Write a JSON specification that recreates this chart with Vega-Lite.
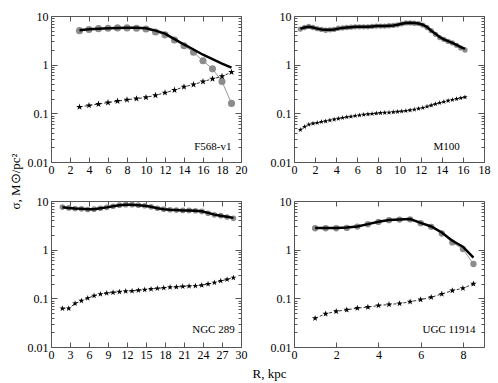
{
  "$schema": "https://vega.github.io/schema/vega-lite/v6.json",
  "padding": {"left": 8, "top": 9, "right": 5, "bottom": 5},
  "background": "white",
  "columns": 2,
  "spacing": {"row": 39, "column": 53},
  "bounds": "flush",
  "concat": [
        {
          "width": 190, "height": 146,
          "data": {"values": [
            {"r":3,"obs":5.0,"model":5.1,"star":0.135},
            {"r":4,"obs":5.3,"model":5.35,"star":0.145},
            {"r":5,"obs":5.5,"model":5.5,"star":0.155},
            {"r":6,"obs":5.6,"model":5.6,"star":0.166},
            {"r":7,"obs":5.7,"model":5.7,"star":0.178},
            {"r":8,"obs":5.7,"model":5.75,"star":0.19},
            {"r":9,"obs":5.6,"model":5.75,"star":0.2},
            {"r":10,"obs":5.4,"model":5.6,"star":0.212},
            {"r":11,"obs":4.7,"model":5.0,"star":0.235},
            {"r":12,"obs":4.1,"model":4.35,"star":0.265},
            {"r":13,"obs":3.2,"model":3.35,"star":0.3},
            {"r":14,"obs":2.45,"model":2.6,"star":0.35},
            {"r":15,"obs":1.8,"model":2.05,"star":0.39},
            {"r":16,"obs":1.2,"model":1.6,"star":0.45},
            {"r":17,"obs":0.82,"model":1.3,"star":0.51},
            {"r":18,"obs":0.45,"model":1.05,"star":0.575},
            {"r":19,"obs":0.16,"model":0.87,"star":0.7}
          ]},
          "layer": [
            {"mark": {"type": "line", "color": "#999999", "strokeWidth": 1},
             "encoding": {
               "x": {"field": "r", "type": "quantitative", "scale": {"domain": [0, 20], "nice": false, "zero": false},
                     "axis": {"orient": "bottom", "values": [0,2,4,6,8,10,12,14,16,18,20], "tickSize": -5, "labelPadding": 7, "title": null}},
               "y": {"field": "obs", "type": "quantitative", "scale": {"type": "log", "domain": [0.01, 10], "nice": false},
                     "axis": {"orient": "left", "values": [0.01, 0.1, 1, 10], "format": "~g", "tickSize": -6, "labelPadding": 9,
                              "title": "σ, M⊙/pc²", "titleX": -36, "titleY": 165, "titleAngle": -90, "titleAlign": "center", "titleBaseline": "middle"}}
             }},
            {"mark": {"type": "point", "filled": true, "color": "#8c8c8c", "opacity": 1, "size": 50},
             "encoding": {
               "x": {"field": "r", "type": "quantitative", "axis": {"orient": "top", "values": [0,2,4,6,8,10,12,14,16,18,20], "tickSize": -5, "labels": false, "title": null}},
               "y": {"field": "obs", "type": "quantitative", "axis": {"orient": "right", "values": [0.01, 0.1, 1, 10], "tickSize": -6, "labels": false, "title": null}}
             }},
            {"mark": {"type": "line", "color": "black", "strokeWidth": 2.5},
             "encoding": {
               "x": {"field": "r", "type": "quantitative", "axis": null},
               "y": {"field": "model", "type": "quantitative", "axis": {"orient": "left", "values": [0.02,0.03,0.04,0.05,0.06,0.07,0.08,0.09,0.2,0.3,0.4,0.5,0.6,0.7,0.8,0.9,2,3,4,5,6,7,8,9], "tickSize": -3, "labels": false, "title": null}}
             }},
            {"mark": {"type": "line", "color": "black", "strokeWidth": 0.8, "strokeDash": [3, 2]},
             "encoding": {
               "x": {"field": "r", "type": "quantitative", "axis": null},
               "y": {"field": "star", "type": "quantitative", "axis": {"orient": "right", "values": [0.02,0.03,0.04,0.05,0.06,0.07,0.08,0.09,0.2,0.3,0.4,0.5,0.6,0.7,0.8,0.9,2,3,4,5,6,7,8,9], "tickSize": -3, "labels": false, "title": null}}
             }},
            {"mark": {"type": "point", "filled": true, "color": "black", "opacity": 1, "size": 50,
                      "shape": "M0,-1L0.2245,-0.309L0.951,-0.309L0.363,0.118L0.588,0.809L0,0.382L-0.588,0.809L-0.363,0.118L-0.951,-0.309L-0.2245,-0.309Z"},
             "encoding": {
               "x": {"field": "r", "type": "quantitative", "axis": null},
               "y": {"field": "star", "type": "quantitative", "axis": null}
             }},
            {"data": {"values": [{"name": "F568-v1"}]},
             "mark": {"type": "text", "align": "right", "baseline": "middle", "font": "Liberation Serif", "fontSize": 11, "color": "black"},
             "encoding": {
               "x": {"datum": 19.0, "type": "quantitative", "axis": null},
               "y": {"datum": 0.02, "type": "quantitative", "axis": null},
               "text": {"field": "name"}
             }}
          ],
          "resolve": {"axis": {"x": "independent", "y": "independent"}}
        },
        {
          "width": 190, "height": 146,
          "data": {"values": [
            {"r":0.6,"obs":5.4,"model":5.5,"star":0.046},
            {"r":1.0,"obs":5.8,"model":5.8,"star":0.053},
            {"r":1.4,"obs":6.1,"model":6.0,"star":0.059},
            {"r":1.8,"obs":5.8,"model":5.8,"star":0.062},
            {"r":2.2,"obs":5.5,"model":5.5,"star":0.064},
            {"r":2.6,"obs":5.3,"model":5.3,"star":0.067},
            {"r":3.0,"obs":5.1,"model":5.2,"star":0.069},
            {"r":3.4,"obs":5.2,"model":5.2,"star":0.072},
            {"r":3.8,"obs":5.3,"model":5.3,"star":0.075},
            {"r":4.2,"obs":5.6,"model":5.5,"star":0.078},
            {"r":4.6,"obs":5.7,"model":5.7,"star":0.081},
            {"r":5.0,"obs":5.8,"model":5.8,"star":0.084},
            {"r":5.4,"obs":5.9,"model":5.9,"star":0.086},
            {"r":5.8,"obs":6.0,"model":6.0,"star":0.089},
            {"r":6.2,"obs":6.0,"model":6.0,"star":0.091},
            {"r":6.6,"obs":6.0,"model":6.0,"star":0.094},
            {"r":7.0,"obs":6.0,"model":6.0,"star":0.096},
            {"r":7.4,"obs":6.1,"model":6.1,"star":0.098},
            {"r":7.8,"obs":6.2,"model":6.2,"star":0.1},
            {"r":8.2,"obs":6.2,"model":6.2,"star":0.102},
            {"r":8.6,"obs":6.2,"model":6.2,"star":0.103},
            {"r":9.0,"obs":6.3,"model":6.3,"star":0.104},
            {"r":9.4,"obs":6.4,"model":6.4,"star":0.106},
            {"r":9.8,"obs":6.6,"model":6.6,"star":0.108},
            {"r":10.2,"obs":6.9,"model":6.9,"star":0.11},
            {"r":10.6,"obs":7.2,"model":7.2,"star":0.113},
            {"r":11.0,"obs":7.2,"model":7.3,"star":0.116},
            {"r":11.4,"obs":7.1,"model":7.2,"star":0.12},
            {"r":11.8,"obs":7.0,"model":7.0,"star":0.125},
            {"r":12.2,"obs":6.5,"model":6.6,"star":0.13},
            {"r":12.6,"obs":5.8,"model":5.9,"star":0.138},
            {"r":13.0,"obs":5.0,"model":5.0,"star":0.146},
            {"r":13.4,"obs":4.2,"model":4.3,"star":0.155},
            {"r":13.8,"obs":3.6,"model":3.7,"star":0.165},
            {"r":14.2,"obs":3.3,"model":3.3,"star":0.173},
            {"r":14.6,"obs":3.0,"model":3.05,"star":0.182},
            {"r":15.0,"obs":2.8,"model":2.8,"star":0.19},
            {"r":15.4,"obs":2.5,"model":2.55,"star":0.198},
            {"r":15.8,"obs":2.2,"model":2.3,"star":0.206},
            {"r":16.2,"obs":2.0,"model":2.1,"star":0.215}
          ]},
          "layer": [
            {"mark": {"type": "line", "color": "#999999", "strokeWidth": 1},
             "encoding": {
               "x": {"field": "r", "type": "quantitative", "scale": {"domain": [0, 18], "nice": false, "zero": false},
                     "axis": {"orient": "bottom", "values": [0,2,4,6,8,10,12,14,16,18], "tickSize": -5, "labelPadding": 7, "title": null}},
               "y": {"field": "obs", "type": "quantitative", "scale": {"type": "log", "domain": [0.01, 10], "nice": false},
                     "axis": {"orient": "left", "values": [0.01, 0.1, 1, 10], "format": "~g", "tickSize": -6, "labelPadding": 9, "title": null}}
             }},
            {"mark": {"type": "point", "filled": true, "color": "#8c8c8c", "opacity": 1, "size": 28},
             "encoding": {
               "x": {"field": "r", "type": "quantitative", "axis": {"orient": "top", "values": [0,2,4,6,8,10,12,14,16,18], "tickSize": -5, "labels": false, "title": null}},
               "y": {"field": "obs", "type": "quantitative", "axis": {"orient": "right", "values": [0.01, 0.1, 1, 10], "tickSize": -6, "labels": false, "title": null}}
             }},
            {"mark": {"type": "line", "color": "black", "strokeWidth": 2.5},
             "encoding": {
               "x": {"field": "r", "type": "quantitative", "axis": null},
               "y": {"field": "model", "type": "quantitative", "axis": {"orient": "left", "values": [0.02,0.03,0.04,0.05,0.06,0.07,0.08,0.09,0.2,0.3,0.4,0.5,0.6,0.7,0.8,0.9,2,3,4,5,6,7,8,9], "tickSize": -3, "labels": false, "title": null}}
             }},
            {"mark": {"type": "line", "color": "black", "strokeWidth": 0.8, "strokeDash": [3, 2]},
             "encoding": {
               "x": {"field": "r", "type": "quantitative", "axis": null},
               "y": {"field": "star", "type": "quantitative", "axis": {"orient": "right", "values": [0.02,0.03,0.04,0.05,0.06,0.07,0.08,0.09,0.2,0.3,0.4,0.5,0.6,0.7,0.8,0.9,2,3,4,5,6,7,8,9], "tickSize": -3, "labels": false, "title": null}}
             }},
            {"mark": {"type": "point", "filled": true, "color": "black", "opacity": 1, "size": 30,
                      "shape": "M0,-1L0.2245,-0.309L0.951,-0.309L0.363,0.118L0.588,0.809L0,0.382L-0.588,0.809L-0.363,0.118L-0.951,-0.309L-0.2245,-0.309Z"},
             "encoding": {
               "x": {"field": "r", "type": "quantitative", "axis": null},
               "y": {"field": "star", "type": "quantitative", "axis": null}
             }},
            {"data": {"values": [{"name": "M100"}]},
             "mark": {"type": "text", "align": "right", "baseline": "middle", "font": "Liberation Serif", "fontSize": 11, "color": "black"},
             "encoding": {
               "x": {"datum": 15.7, "type": "quantitative", "axis": null},
               "y": {"datum": 0.02, "type": "quantitative", "axis": null},
               "text": {"field": "name"}
             }}
          ],
          "resolve": {"axis": {"x": "independent", "y": "independent"}}
        },
        {
          "width": 190, "height": 146,
          "data": {"values": [
            {"r":1.8,"obs":7.5,"model":7.4,"star":0.062},
            {"r":2.8,"obs":7.2,"model":7.2,"star":0.062},
            {"r":3.8,"obs":7.0,"model":7.0,"star":0.0785},
            {"r":4.8,"obs":6.9,"model":6.9,"star":0.089},
            {"r":5.8,"obs":6.7,"model":6.75,"star":0.101},
            {"r":6.8,"obs":6.8,"model":6.8,"star":0.113},
            {"r":7.8,"obs":7.1,"model":7.1,"star":0.122},
            {"r":8.8,"obs":7.4,"model":7.4,"star":0.128},
            {"r":9.8,"obs":7.8,"model":7.8,"star":0.132},
            {"r":10.8,"obs":8.2,"model":8.2,"star":0.136},
            {"r":11.8,"obs":8.4,"model":8.4,"star":0.14},
            {"r":12.8,"obs":8.4,"model":8.4,"star":0.142},
            {"r":13.8,"obs":8.2,"model":8.2,"star":0.146},
            {"r":14.8,"obs":8.0,"model":8.0,"star":0.15},
            {"r":15.8,"obs":7.6,"model":7.6,"star":0.155},
            {"r":16.8,"obs":7.1,"model":7.1,"star":0.16},
            {"r":17.8,"obs":6.8,"model":6.8,"star":0.164},
            {"r":18.8,"obs":6.6,"model":6.6,"star":0.169},
            {"r":19.8,"obs":6.5,"model":6.5,"star":0.171},
            {"r":20.8,"obs":6.4,"model":6.4,"star":0.175},
            {"r":21.8,"obs":6.4,"model":6.4,"star":0.178},
            {"r":22.8,"obs":6.3,"model":6.3,"star":0.18},
            {"r":23.8,"obs":6.1,"model":6.15,"star":0.186},
            {"r":24.8,"obs":5.6,"model":5.7,"star":0.197},
            {"r":25.8,"obs":5.2,"model":5.25,"star":0.21},
            {"r":26.8,"obs":5.0,"model":5.0,"star":0.228},
            {"r":27.8,"obs":4.7,"model":4.75,"star":0.245},
            {"r":28.8,"obs":4.4,"model":4.5,"star":0.265}
          ]},
          "layer": [
            {"mark": {"type": "line", "color": "#999999", "strokeWidth": 1},
             "encoding": {
               "x": {"field": "r", "type": "quantitative", "scale": {"domain": [0, 30], "nice": false, "zero": false},
                     "axis": {"orient": "bottom", "values": [0,3,6,9,12,15,18,21,24,27,30], "tickSize": -5, "labelPadding": 7,
                              "title": "R, kpc", "titleX": 218, "titleY": 26, "titleAlign": "center", "titleBaseline": "middle"}},
               "y": {"field": "obs", "type": "quantitative", "scale": {"type": "log", "domain": [0.01, 10], "nice": false},
                     "axis": {"orient": "left", "values": [0.01, 0.1, 1, 10], "format": "~g", "tickSize": -6, "labelPadding": 9, "title": null}}
             }},
            {"mark": {"type": "point", "filled": true, "color": "#8c8c8c", "opacity": 1, "size": 32},
             "encoding": {
               "x": {"field": "r", "type": "quantitative", "axis": {"orient": "top", "values": [0,3,6,9,12,15,18,21,24,27,30], "tickSize": -5, "labels": false, "title": null}},
               "y": {"field": "obs", "type": "quantitative", "axis": {"orient": "right", "values": [0.01, 0.1, 1, 10], "tickSize": -6, "labels": false, "title": null}}
             }},
            {"mark": {"type": "line", "color": "black", "strokeWidth": 2.5},
             "encoding": {
               "x": {"field": "r", "type": "quantitative", "axis": null},
               "y": {"field": "model", "type": "quantitative", "axis": {"orient": "left", "values": [0.02,0.03,0.04,0.05,0.06,0.07,0.08,0.09,0.2,0.3,0.4,0.5,0.6,0.7,0.8,0.9,2,3,4,5,6,7,8,9], "tickSize": -3, "labels": false, "title": null}}
             }},
            {"mark": {"type": "line", "color": "black", "strokeWidth": 0.8, "strokeDash": [3, 2]},
             "encoding": {
               "x": {"field": "r", "type": "quantitative", "axis": null},
               "y": {"field": "star", "type": "quantitative", "axis": {"orient": "right", "values": [0.02,0.03,0.04,0.05,0.06,0.07,0.08,0.09,0.2,0.3,0.4,0.5,0.6,0.7,0.8,0.9,2,3,4,5,6,7,8,9], "tickSize": -3, "labels": false, "title": null}}
             }},
            {"mark": {"type": "point", "filled": true, "color": "black", "opacity": 1, "size": 40,
                      "shape": "M0,-1L0.2245,-0.309L0.951,-0.309L0.363,0.118L0.588,0.809L0,0.382L-0.588,0.809L-0.363,0.118L-0.951,-0.309L-0.2245,-0.309Z"},
             "encoding": {
               "x": {"field": "r", "type": "quantitative", "axis": null},
               "y": {"field": "star", "type": "quantitative", "axis": null}
             }},
            {"data": {"values": [{"name": "NGC 289"}]},
             "mark": {"type": "text", "align": "right", "baseline": "middle", "font": "Liberation Serif", "fontSize": 11, "color": "black"},
             "encoding": {
               "x": {"datum": 29.0, "type": "quantitative", "axis": null},
               "y": {"datum": 0.022, "type": "quantitative", "axis": null},
               "text": {"field": "name"}
             }}
          ],
          "resolve": {"axis": {"x": "independent", "y": "independent"}}
        },
        {
          "width": 190, "height": 146,
          "data": {"values": [
            {"r":1.0,"obs":2.75,"model":2.8,"star":0.039},
            {"r":1.5,"obs":2.75,"model":2.8,"star":0.048},
            {"r":2.0,"obs":2.75,"model":2.8,"star":0.054},
            {"r":2.5,"obs":2.8,"model":2.85,"star":0.058},
            {"r":3.0,"obs":2.98,"model":3.0,"star":0.063},
            {"r":3.5,"obs":3.33,"model":3.35,"star":0.066},
            {"r":4.0,"obs":3.72,"model":3.75,"star":0.071},
            {"r":4.5,"obs":4.03,"model":4.05,"star":0.075},
            {"r":5.0,"obs":4.15,"model":4.15,"star":0.078},
            {"r":5.5,"obs":4.2,"model":4.25,"star":0.085},
            {"r":6.0,"obs":3.5,"model":3.55,"star":0.094},
            {"r":6.5,"obs":2.94,"model":3.0,"star":0.105},
            {"r":7.0,"obs":2.15,"model":2.25,"star":0.123},
            {"r":7.5,"obs":1.41,"model":1.52,"star":0.144},
            {"r":8.0,"obs":1.03,"model":1.15,"star":0.161},
            {"r":8.5,"obs":0.507,"model":0.69,"star":0.198}
          ]},
          "layer": [
            {"mark": {"type": "line", "color": "#999999", "strokeWidth": 1},
             "encoding": {
               "x": {"field": "r", "type": "quantitative", "scale": {"domain": [0, 9], "nice": false, "zero": false},
                     "axis": {"orient": "bottom", "values": [0,2,4,6,8], "tickSize": -5, "labelPadding": 7, "title": null}},
               "y": {"field": "obs", "type": "quantitative", "scale": {"type": "log", "domain": [0.01, 10], "nice": false},
                     "axis": {"orient": "left", "values": [0.01, 0.1, 1, 10], "format": "~g", "tickSize": -6, "labelPadding": 9, "title": null}}
             }},
            {"mark": {"type": "point", "filled": true, "color": "#8c8c8c", "opacity": 1, "size": 40},
             "encoding": {
               "x": {"field": "r", "type": "quantitative", "axis": {"orient": "top", "values": [0,2,4,6,8], "tickSize": -5, "labels": false, "title": null}},
               "y": {"field": "obs", "type": "quantitative", "axis": {"orient": "right", "values": [0.01, 0.1, 1, 10], "tickSize": -6, "labels": false, "title": null}}
             }},
            {"mark": {"type": "line", "color": "black", "strokeWidth": 2.5},
             "encoding": {
               "x": {"field": "r", "type": "quantitative", "axis": null},
               "y": {"field": "model", "type": "quantitative", "axis": {"orient": "left", "values": [0.02,0.03,0.04,0.05,0.06,0.07,0.08,0.09,0.2,0.3,0.4,0.5,0.6,0.7,0.8,0.9,2,3,4,5,6,7,8,9], "tickSize": -3, "labels": false, "title": null}}
             }},
            {"mark": {"type": "line", "color": "black", "strokeWidth": 0.8, "strokeDash": [3, 2]},
             "encoding": {
               "x": {"field": "r", "type": "quantitative", "axis": null},
               "y": {"field": "star", "type": "quantitative", "axis": {"orient": "right", "values": [0.02,0.03,0.04,0.05,0.06,0.07,0.08,0.09,0.2,0.3,0.4,0.5,0.6,0.7,0.8,0.9,2,3,4,5,6,7,8,9], "tickSize": -3, "labels": false, "title": null}}
             }},
            {"mark": {"type": "point", "filled": true, "color": "black", "opacity": 1, "size": 45,
                      "shape": "M0,-1L0.2245,-0.309L0.951,-0.309L0.363,0.118L0.588,0.809L0,0.382L-0.588,0.809L-0.363,0.118L-0.951,-0.309L-0.2245,-0.309Z"},
             "encoding": {
               "x": {"field": "r", "type": "quantitative", "axis": null},
               "y": {"field": "star", "type": "quantitative", "axis": null}
             }},
            {"data": {"values": [{"name": "UGC 11914"}]},
             "mark": {"type": "text", "align": "right", "baseline": "middle", "font": "Liberation Serif", "fontSize": 11, "color": "black"},
             "encoding": {
               "x": {"datum": 8.6, "type": "quantitative", "axis": null},
               "y": {"datum": 0.022, "type": "quantitative", "axis": null},
               "text": {"field": "name"}
             }}
          ],
          "resolve": {"axis": {"x": "independent", "y": "independent"}}
        }
  ],
  "config": {
    "view": {"stroke": "#555555", "strokeWidth": 1},
    "axis": {
      "domain": false, "grid": false,
      "tickColor": "#555555", "tickWidth": 1,
      "labelFont": "Liberation Serif", "labelFontSize": 12, "labelColor": "black",
      "labelFlush": false, "labelOverlap": false,
      "titleFont": "Liberation Serif", "titleFontSize": 13, "titleFontWeight": "normal", "titleColor": "black"
    }
  }
}
